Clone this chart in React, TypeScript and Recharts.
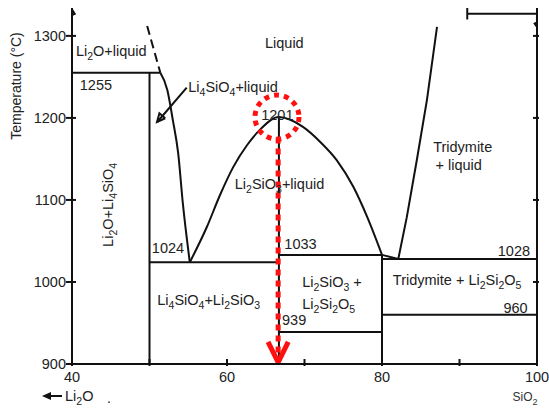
import { ComposedChart, Line, XAxis, YAxis, Scatter, ReferenceDot } from 'recharts'

type Pt = { x: number; t: number }

// axis ticks
const xTicks = [40, 50, 60, 70, 80, 90, 100]
const xTickLabels = [40, 60, 80, 100]
const yTicks = [900, 1000, 1100, 1200, 1300]
const yTicksRight = [1000, 1100, 1200, 1300]

// phase boundaries: x = mol% SiO2, t = temperature (°C)
const line1255: Pt[] = [{ x: 40, t: 1255 }, { x: 51.4, t: 1255 }]
const li2oLiquidusDashed: Pt[] = [{ x: 49.7, t: 1312 }, { x: 51.4, t: 1255 }]
const li4sio4Liquidus: Pt[] = [
  { x: 51.4, t: 1255 }, { x: 52.3, t: 1234 }, { x: 53.0, t: 1198 },
  { x: 53.7, t: 1157 }, { x: 54.3, t: 1096 }, { x: 55.2, t: 1024 },
]
const li4sio4Line: Pt[] = [{ x: 50, t: 900 }, { x: 50, t: 1255 }]
const eutectic1024: Pt[] = [{ x: 50, t: 1024 }, { x: 66.7, t: 1024 }]
const li2sio3Dome: Pt[] = [
  { x: 55.2, t: 1024 }, { x: 57.4, t: 1067 }, { x: 59.1, t: 1106 },
  { x: 60.8, t: 1140 }, { x: 62.6, t: 1167 }, { x: 64.3, t: 1186 },
  { x: 66.7, t: 1201 }, { x: 69.8, t: 1189 }, { x: 72.0, t: 1171 },
  { x: 74.2, t: 1148 }, { x: 76.3, t: 1116 }, { x: 78.1, t: 1079 },
  { x: 80, t: 1033 },
]
const li2sio3Line: Pt[] = [{ x: 66.7, t: 900 }, { x: 66.7, t: 1201 }]
const eutectic1033: Pt[] = [{ x: 66.7, t: 1033 }, { x: 80, t: 1033 }]
const line939: Pt[] = [{ x: 66.7, t: 939 }, { x: 80, t: 939 }]
const li2si2o5Line: Pt[] = [{ x: 80, t: 900 }, { x: 80, t: 1033 }]
const junction: Pt[] = [{ x: 80, t: 1033 }, { x: 82.1, t: 1028 }]
const eutectic1028: Pt[] = [{ x: 80, t: 1028 }, { x: 100, t: 1028 }]
const tridymiteLiquidus: Pt[] = [
  { x: 82.1, t: 1028 }, { x: 83.2, t: 1079 }, { x: 84.5, t: 1149 },
  { x: 85.8, t: 1222 }, { x: 87.1, t: 1311 },
]
const line960: Pt[] = [{ x: 80, t: 960 }, { x: 100, t: 960 }]
const topBracket: Pt[] = [{ x: 91, t: 1327 }, { x: 100, t: 1327 }]
const topBracketTick: Pt[] = [{ x: 91, t: 1334 }, { x: 91, t: 1320 }]
const leftBreak: Pt[] = [{ x: 40, t: 1332 }, { x: 40.35, t: 1327 }, { x: 39.7, t: 1324 }, { x: 40, t: 1320 }]
const rightBreak: Pt[] = [{ x: 100, t: 1322 }, { x: 100.35, t: 1318 }, { x: 99.7, t: 1315 }, { x: 100, t: 1311 }]

// pointer from "Li4SiO4 + liquid" into the narrow field
const pointer: Pt[] = [{ x: 54.8, t: 1237 }, { x: 51.0, t: 1195 }]
const pointerHead: Pt[] = [
  { x: 52.03, t: 1199.6 }, { x: 50.97, t: 1195.1 }, { x: 51.28, t: 1205.7 }, { x: 52.03, t: 1199.6 },
]

// red annotation
const redCircle = { x: 66.45, t: 1201 }
const redDrop: Pt[] = [{ x: 66.6, t: 1176 }, { x: 66.6, t: 907 }]
const redHead: Pt[] = [{ x: 65.3, t: 927 }, { x: 66.6, t: 902 }, { x: 67.9, t: 927 }]

// field labels, "_n" marks a subscript
const labels = [
  { x: 40.5, t: 1276, text: 'Li_2O+liquid', anchor: 'start' },
  { x: 41.0, t: 1234, text: '1255', anchor: 'start' },
  { x: 67.4, t: 1285, text: 'Liquid', anchor: 'middle' },
  { x: 55.0, t: 1231, text: 'Li_4SiO_4+liquid', anchor: 'start' },
  { x: 66.5, t: 1198, text: '1201', anchor: 'middle' },
  { x: 61.0, t: 1113, text: 'Li_2SiO_3+liquid', anchor: 'start' },
  { x: 86.6, t: 1159, text: 'Tridymite', anchor: 'start' },
  { x: 86.9, t: 1137, text: '+ liquid', anchor: 'start' },
  { x: 45.3, t: 1094, text: 'Li_2O+Li_4SiO_4', anchor: 'middle', rotate: true },
  { x: 50.3, t: 1035, text: '1024', anchor: 'start' },
  { x: 67.4, t: 1040, text: '1033', anchor: 'start' },
  { x: 99.1, t: 1032, text: '1028', anchor: 'end' },
  { x: 51.0, t: 972, text: 'Li_4SiO_4+Li_2SiO_3', anchor: 'start' },
  { x: 69.7, t: 994, text: 'Li_2SiO_3 +', anchor: 'start' },
  { x: 69.7, t: 967, text: 'Li_2Si_2O_5', anchor: 'start' },
  { x: 67.1, t: 948, text: '939', anchor: 'start' },
  { x: 81.4, t: 996, text: 'Tridymite + Li_2Si_2O_5', anchor: 'start' },
  { x: 98.8, t: 962, text: '960', anchor: 'end' },
]

const FONT = '"Liberation Sans", Arial, sans-serif'

function withSubs(text: string, sub = 10.5) {
  const parts = text.split(/_(\d)/)
  return parts.map((p, i) =>
    i % 2 === 1 ? (
      <tspan key={i} dy={4} fontSize={sub}>{p}</tspan>
    ) : (
      <tspan key={i} dy={i === 0 ? 0 : -4}>{p}</tspan>
    ),
  )
}

function LabelShape(props: any) {
  const { cx, cy, payload } = props
  return (
    <text
      x={cx}
      y={cy}
      textAnchor={payload.anchor}
      fontSize={14.5}
      fontFamily={FONT}
      fill="#222"
      transform={payload.rotate ? `rotate(-90, ${cx}, ${cy})` : undefined}
    >
      {withSubs(payload.text)}
    </text>
  )
}

function XTick({ x, y, payload }: any) {
  const v = payload.value
  return (
    <g>
      <line x1={x} y1={y} x2={x} y2={y - 7} stroke="#111" strokeWidth={2} />
      {xTickLabels.includes(v) && (
        <text x={x} y={y + 16} textAnchor="middle" fontSize={14.5} fontFamily={FONT} fill="#222">
          {v}
        </text>
      )}
    </g>
  )
}

function YTick({ x, y, payload }: any) {
  return (
    <g>
      <line x1={x - 4} y1={y} x2={x + 6} y2={y} stroke="#111" strokeWidth={2} />
      <text x={x - 4} y={y + 5} textAnchor="end" fontSize={14.5} fontFamily={FONT} fill="#222">
        {payload.value}
      </text>
    </g>
  )
}

function YTickRight({ x, y }: any) {
  return <line x1={x} y1={y} x2={x - 6} y2={y} stroke="#111" strokeWidth={2} />
}

function YTitle({ viewBox }: any) {
  const cx = viewBox.x + 21
  const cy = viewBox.y + 78
  return (
    <text x={cx} y={cy} textAnchor="middle" fontSize={14} fontFamily={FONT} fill="#222"
      transform={`rotate(-90, ${cx}, ${cy})`}>
      Temperature (°C)
    </text>
  )
}

function XTitle({ viewBox }: any) {
  const left = viewBox.x
  const right = viewBox.x + viewBox.width
  const y = viewBox.y + 37
  return (
    <g fontFamily={FONT} fill="#222">
      <line x1={left - 24} y1={y - 5} x2={left - 10} y2={y - 5} stroke="#111" strokeWidth={2} />
      <path d={`M${left - 30},${y - 5} L${left - 21},${y - 9} L${left - 21},${y - 1} Z`} fill="#111" />
      <text x={left - 7} y={y} fontSize={14.5}>{withSubs('Li_2O')}</text>
      <text x={left + 35} y={y + 2} fontSize={14}>.</text>
      <text x={right - 12} y={y} textAnchor="middle" fontSize={12} fill="#333">{withSubs('SiO_2', 9)}</text>
    </g>
  )
}

const black = (data: Pt[], key: string, curved = false, dash?: string) => (
  <Line
    key={key}
    data={data}
    dataKey="t"
    type={curved ? 'monotone' : 'linear'}
    stroke="#111"
    strokeWidth={2}
    strokeDasharray={dash}
    dot={false}
    activeDot={false}
    isAnimationActive={false}
  />
)

export default function App() {
  return (
    <div style={{ position: 'absolute', left: 0, top: 0, background: '#fff' }}>
      <ComposedChart width={549} height={408} margin={{ top: 8, right: 0, bottom: 0, left: 0 }}>
        <XAxis
          type="number"
          dataKey="x"
          domain={[40, 100]}
          ticks={xTicks}
          tickSize={0}
          tickLine={false}
          axisLine={{ stroke: '#111', strokeWidth: 2 }}
          tick={<XTick />}
          height={44}
          interval={0}
          allowDataOverflow
          label={<XTitle />}
        />
        <YAxis
          type="number"
          domain={[900, 1334]}
          ticks={yTicks}
          tickSize={0}
          tickLine={false}
          axisLine={{ stroke: '#111', strokeWidth: 2 }}
          tick={<YTick />}
          width={72}
          interval={0}
          allowDataOverflow
          label={<YTitle />}
        />
        <YAxis
          yAxisId="r"
          orientation="right"
          type="number"
          domain={[900, 1334]}
          ticks={yTicksRight}
          tickSize={0}
          tickLine={false}
          axisLine={{ stroke: '#111', strokeWidth: 2 }}
          tick={<YTickRight />}
          width={12}
          interval={0}
          allowDataOverflow
        />
        {black(line1255, 'l1255')}
        {black(li2oLiquidusDashed, 'dash', false, '9 5')}
        {black(li4sio4Liquidus, 'liq1', true)}
        {black(li4sio4Line, 'v50')}
        {black(eutectic1024, 'e1024')}
        {black(li2sio3Dome, 'dome', true)}
        {black(li2sio3Line, 'v667')}
        {black(eutectic1033, 'e1033')}
        {black(line939, 'l939')}
        {black(li2si2o5Line, 'v80')}
        {black(junction, 'junc')}
        {black(eutectic1028, 'e1028')}
        {black(tridymiteLiquidus, 'trid')}
        {black(line960, 'l960')}
        {black(topBracket, 'br')}
        {black(topBracketTick, 'brt')}
        {black(leftBreak, 'lb')}
        {black(rightBreak, 'rb')}
        {black(pointer, 'ptr')}
        {black(pointerHead, 'ptrh')}
        <Scatter data={labels} dataKey="t" shape={<LabelShape />} isAnimationActive={false} />
        <ReferenceDot
          x={redCircle.x}
          y={redCircle.t}
          r={22}
          fill="none"
          stroke="#ff1010"
          strokeWidth={5}
          strokeDasharray="5 5"
        />
        <Line
          data={redDrop}
          dataKey="t"
          type="linear"
          stroke="#ff1010"
          strokeWidth={5}
          strokeDasharray="6 5"
          dot={false}
          activeDot={false}
          isAnimationActive={false}
        />
        <Line
          data={redHead}
          dataKey="t"
          type="linear"
          stroke="#ff1010"
          strokeWidth={5}
          dot={false}
          activeDot={false}
          isAnimationActive={false}
        />
      </ComposedChart>
    </div>
  )
}
